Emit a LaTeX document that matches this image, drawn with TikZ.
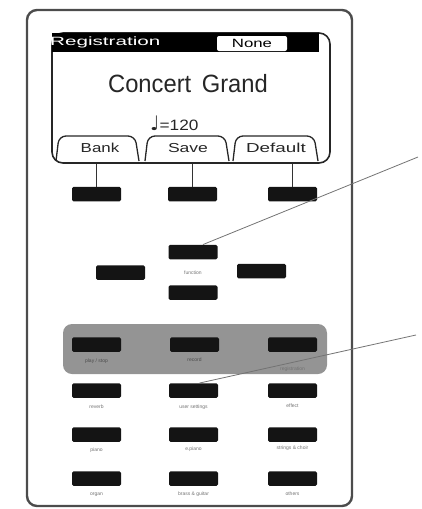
\documentclass[tikz,border=0pt]{standalone}
\usepackage{fontspec}
\setmainfont{Liberation Sans}
\newfontfamily\symfont{DejaVu Sans}
\begin{document}
\begin{tikzpicture}[x=1pt,y=-1pt,
  btn/.style={fill=black!92,rounded corners=1.5pt,minimum width=49pt,minimum height=14.5pt,inner sep=0pt},
  lbl/.style={font=\fontsize{5}{6}\selectfont,text=black!55,inner sep=0pt},
  tabtxt/.style={font=\fontsize{13}{15}\selectfont,inner sep=0pt,text=black!85},
  tabline/.style={draw=black!85,line width=1.3pt,rounded corners=7pt},
  leader/.style={draw=black!55,line width=0.8pt},
  stem/.style={draw=black!80,line width=1.1pt}]
\useasboundingbox (0,0) rectangle (421,509);
% outer frame
\draw[draw=black!70,line width=2.4pt,rounded corners=10pt] (27,10) rectangle (352,506);
% screen
\draw[draw=black!85,line width=1.6pt,rounded corners=11pt] (52,33) -- (330,33) -- (330,163) -- (52,163) -- cycle;
\fill[black] (52,33) rectangle (319,52);
\node[fill=white,rounded corners=2pt,minimum width=70pt,minimum height=15pt,inner sep=0pt,font=\fontsize{12}{14}\selectfont] (none) at (252,43.5) {\scalebox{1.4}[1]{None}};
\node[text=white,anchor=west,inner sep=0pt,font=\fontsize{12}{14}\selectfont] (reg) at (50,42.5) {\scalebox{1.72}[1]{Registration}};
\node[font=\fontsize{25}{28}\selectfont,inner sep=0pt,text=black!85] (title) at (188,84) {\scalebox{0.95}[1]{Concert\ \,Grand}};
\node[inner sep=0pt,anchor=west,font=\fontsize{15}{17}\selectfont,text=black!85] (tempo) at (150,123.5) {{\symfont\fontsize{20}{22}\selectfont ♩}\scalebox{1.15}[1]{=120}};
% tabs
\draw[tabline] (56,161) -- (59,136) -- (135,136) -- (139,161);
\draw[tabline] (145,161) -- (148,136) -- (225,136) -- (229,161);
\draw[tabline] (233,161) -- (236,136) -- (314,136) -- (318,161);
\node[tabtxt] (bank) at (100,148) {\scalebox{1.3}[1]{Bank}};
\node[tabtxt] (save) at (188,148) {\scalebox{1.35}[1]{Save}};
\node[tabtxt] (default) at (276,148) {\scalebox{1.45}[1]{Default}};
% buttons row 1
\node[btn] (b1) at (96.5,194) {};
\node[btn] (b2) at (192.5,194) {};
\node[btn] (b3) at (292.5,194) {};
\coordinate (s1) at (96.5,163.8);
\coordinate (s2) at (192.5,163.8);
\coordinate (s3) at (292.5,163.8);
\draw[stem] (s1) -- (b1.north);
\draw[stem] (s2) -- (b2.north);
\draw[stem] (s3) -- (b3.north);
% centre cluster
\node[btn] (cu) at (193,252) {};
\node[btn] (cl) at (120.5,272.5) {};
\node[btn] (cr) at (261.5,271) {};
\node[btn] (cd) at (193,292.5) {};
\node[lbl] (fn) at (193,272.5) {function};
% grey area
\fill[black!42,rounded corners=9pt] (63,324) rectangle (327,374);
\node[btn] (g1) at (96.5,344.5) {};
\node[btn] (g2) at (194.5,344.5) {};
\node[btn] (g3) at (292.5,344.5) {};
\node[lbl,text=black!70] (lg1) at (96.5,361) {play / stop};
\node[lbl,text=black!70] (lg2) at (194.5,359.5) {record};
\node[lbl] (lg3) at (292.5,369) {registration};
% rows
\node[btn] (r21) at (96.5,390.5) {};
\node[btn] (r22) at (193.5,390.5) {};
\node[btn] (r23) at (292.5,390.5) {};
\node[lbl] (l21) at (96.5,407) {reverb};
\node[lbl] (l22) at (193.5,407) {user settings};
\node[lbl] (l23) at (292.5,406) {effect};
\node[btn] (r31) at (96.5,434.5) {};
\node[btn] (r32) at (193.5,434.5) {};
\node[btn] (r33) at (292.5,434.5) {};
\node[lbl] (l31) at (96.5,450) {piano};
\node[lbl] (l32) at (193.5,449.5) {e.piano};
\node[lbl] (l33) at (292.5,448.5) {strings \& choir};
\node[btn] (r41) at (96.5,478.5) {};
\node[btn] (r42) at (193.5,478.5) {};
\node[btn] (r43) at (292.5,478.5) {};
\node[lbl] (l41) at (96.5,494.5) {organ};
\node[lbl] (l42) at (193.5,494) {brass \& guitar};
\node[lbl] (l43) at (292.5,493.5) {others};
% leader lines
\coordinate (e1) at (418,157);
\coordinate (e2) at (416,335);
\draw[leader] ([xshift=10pt]cu.north) -- (e1);
\draw[leader] ([xshift=6pt]r22.north) -- (e2);
\end{tikzpicture}
\end{document}
